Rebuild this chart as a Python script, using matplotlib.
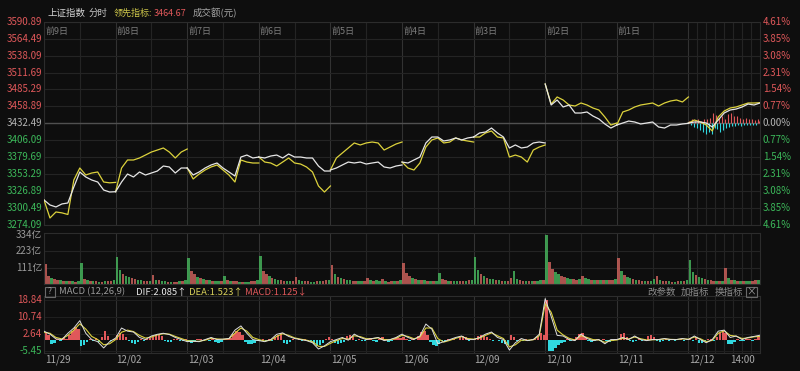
import matplotlib
matplotlib.use('Agg')
import matplotlib.pyplot as plt
import matplotlib.transforms as mtrans
from matplotlib.patches import Rectangle
import numpy as np

plt.rcParams['font.family'] = ['Noto Sans CJK SC', 'DejaVu Sans']

# ---------------- data ----------------
prev_close = 3432.49
lead_last = 3464.67
price_ticks = [3590.89, 3564.49, 3538.09, 3511.69, 3485.29, 3458.89, 3432.49,
               3406.09, 3379.69, 3353.29, 3326.89, 3300.49, 3274.09]
pct_labels = ['4.61%', '3.85%', '3.08%', '2.31%', '1.54%', '0.77%', '0.00%',
              '0.77%', '1.54%', '2.31%', '3.08%', '3.85%', '4.61%']
vol_ticks = [334, 223, 111]
vol_labels = ['334亿', '223亿', '111亿']
macd_ticks = [18.84, 10.74, 2.64, -5.45]
day_tags = ['前9日', '前8日', '前7日', '前6日', '前5日', '前4日', '前3日', '前2日', '前1日']
date_labels = ['11/29', '12/02', '12/03', '12/04', '12/05', '12/06', '12/09', '12/10', '12/11', '12/12']
minutes_per_day = 240
price_step = 20     # minutes between price samples
bar_step = 10       # minutes per volume / histogram bar

# index (white), 13 samples per day
white_line = [
    [3313.1, 3305.3, 3302.2, 3306.9, 3308.4, 3333.3, 3356.7, 3348.9, 3344.2, 3341.1, 3328.6, 3325.5, 3326.0],
    [3326.0, 3341.1, 3353.5, 3348.9, 3356.7, 3352.0, 3355.1, 3358.2, 3366.0, 3364.5, 3355.1, 3362.9, 3362.9],
    [3362.9, 3352.0, 3356.7, 3362.9, 3367.6, 3370.7, 3362.9, 3356.7, 3350.4, 3380.0, 3383.1, 3378.5, 3380.0],
    [3380.0, 3378.5, 3381.6, 3383.1, 3378.5, 3384.7, 3380.0, 3380.0, 3378.5, 3378.5, 3366.0, 3358.2, 3358.2],
    [3359.8, 3362.9, 3367.6, 3372.2, 3370.7, 3372.2, 3369.1, 3370.7, 3372.2, 3364.5, 3362.9, 3366.0, 3367.6],
    [3372.2, 3370.7, 3375.4, 3380.0, 3401.9, 3411.2, 3411.2, 3405.0, 3406.6, 3409.7, 3406.6, 3409.7, 3411.2],
    [3411.2, 3417.5, 3419.0, 3425.2, 3417.5, 3411.2, 3394.1, 3398.8, 3394.1, 3395.6, 3401.9, 3403.4, 3401.9],
    [3493.8, 3461.1, 3468.9, 3458.0, 3461.1, 3448.6, 3448.6, 3450.2, 3443.9, 3439.3, 3431.5, 3425.2, 3429.9],
    [3429.9, 3433.0, 3436.1, 3434.6, 3431.5, 3433.0, 3434.6, 3426.8, 3425.2, 3429.9, 3429.9, 3431.5, 3432.5],
    [3433.0, 3434.6, 3434.6, 3433.0, 3426.8, 3437.7, 3448.6, 3453.3, 3454.8, 3458.0, 3462.6, 3461.1, 3464.2],
]
# leading indicator (yellow)
yellow_line = [
    [3313.1, 3285.0, 3294.4, 3293.0, 3290.5, 3344.2, 3362.9, 3352.0, 3355.1, 3356.7, 3341.1, 3339.8, 3340.5],
    [3326.0, 3362.9, 3375.4, 3375.4, 3378.5, 3383.1, 3387.8, 3390.9, 3394.1, 3387.8, 3378.5, 3387.8, 3392.5],
    [3362.9, 3345.8, 3353.5, 3359.8, 3364.5, 3367.6, 3359.8, 3352.0, 3341.1, 3375.4, 3372.2, 3370.7, 3370.7],
    [3380.0, 3372.2, 3370.7, 3366.0, 3372.2, 3378.5, 3370.7, 3369.1, 3364.5, 3356.7, 3334.9, 3325.5, 3334.9],
    [3359.8, 3378.5, 3386.3, 3394.1, 3401.9, 3398.8, 3401.9, 3403.4, 3401.9, 3390.9, 3395.6, 3400.3, 3403.4],
    [3372.2, 3362.9, 3359.8, 3370.7, 3395.6, 3406.6, 3409.7, 3401.9, 3403.4, 3409.7, 3406.6, 3405.0, 3403.4],
    [3411.2, 3411.2, 3417.5, 3420.6, 3411.2, 3409.7, 3380.0, 3383.1, 3380.0, 3372.2, 3390.9, 3395.6, 3398.8],
    [3493.8, 3462.6, 3473.6, 3468.9, 3461.1, 3459.5, 3464.2, 3461.1, 3456.4, 3453.3, 3442.4, 3429.9, 3433.0],
    [3429.9, 3450.2, 3453.3, 3458.0, 3461.1, 3462.6, 3464.2, 3459.5, 3464.2, 3467.3, 3468.9, 3465.8, 3473.6],
    [3433.0, 3437.7, 3434.6, 3429.9, 3420.6, 3442.4, 3451.7, 3456.4, 3458.0, 3461.1, 3464.2, 3464.2, 3464.67],
]
# current-day buy/sell strength bars (points around prev close), every 5 minutes
strength = [4, -3, 6, -5, 4, -7, 6, -10, 4, -14, 7, -17, 6, -13, 9, -16, 16, -7, 13, -9,
            8, -13, 11, -11, 7, -8, 14, -5, 16, -4, 11, -4, 12, -3, 9, -4, 7, -3, 8, -2,
            6, -3, 7, -2, 5, -3, 6, 4]
strength_step = 5

# turnover (亿), 24 bars per day
volume = [
    [134, 55, 40, 32, 28, 24, 22, 20, 19, 18, 17, 19, 145, 35, 25, 21, 19, 18, 17, 17, 18, 20, 23, 28],
    [185, 95, 70, 55, 45, 38, 32, 28, 25, 22, 20, 21, 60, 30, 24, 20, 18, 17, 16, 16, 17, 19, 22, 28],
    [177, 90, 65, 50, 42, 35, 30, 26, 23, 21, 19, 20, 57, 28, 22, 19, 18, 17, 16, 16, 17, 19, 22, 26],
    [188, 92, 68, 52, 42, 35, 30, 26, 23, 21, 19, 20, 45, 26, 21, 19, 18, 17, 17, 18, 20, 22, 25, 30],
    [132, 70, 50, 40, 34, 29, 26, 23, 21, 20, 19, 20, 42, 26, 22, 28, 20, 35, 18, 17, 20, 18, 22, 28],
    [143, 75, 55, 43, 36, 30, 27, 24, 22, 20, 19, 21, 73, 36, 27, 23, 21, 19, 18, 18, 19, 21, 24, 30],
    [186, 95, 70, 54, 44, 37, 32, 28, 25, 23, 21, 22, 40, 91, 32, 25, 22, 20, 19, 19, 20, 22, 25, 30],
    [334, 150, 105, 80, 65, 55, 47, 41, 36, 33, 30, 31, 57, 38, 32, 28, 26, 25, 24, 24, 25, 27, 30, 36],
    [176, 88, 64, 50, 41, 34, 29, 26, 23, 21, 19, 20, 35, 57, 25, 21, 19, 18, 17, 17, 18, 20, 23, 28],
    [166, 82, 60, 47, 39, 33, 28, 25, 22, 20, 19, 20, 109, 40, 28, 24, 22, 20, 19, 19, 20, 22, 25, 30],
]
# colour of each day's opening volume bar (True = up / red)
open_bar_up = [True, False, False, False, True, True, False, False, True, False]

# MACD lines, every 20 minutes (121 samples)
dif = [4, 2.6, 0.3, 0, 3, 5.5, 9, 3, 0, -1, -4, -1,
       0.7, 5.5, 4, 3.6, 1, 0, 1.7, 2.5, 3, 2.4, 1, 0,
       -1, -0.8, -1, 0, 1, 0, 0.2, 0.5, 4.5, 6.5, 3, 0,
       -0.5, -1, 0, 2.5, 3.2, 1.5, 0.5, 0, -0.5, -1.5, -4.5, -3,
       -1, 0, 1, -0.3, 2.6, 1, 0, 0.5, 1, -0.5, 0, 1,
       2.6, 1, 0, 1.7, 7.4, 5, -2, -1, 0, 1, 1.7, 0,
       0, 1, 2.6, 3.6, 1, 0, -5, -1.5, 0.5, -0.5, 0, 2.5,
       19.5, 11, 2, 1.7, 0, -0.5, 2.6, 0.5, -0.5, 0, -2, 0,
       0, 1, 0, 1.7, 0, -0.5, 0, 0, 0.5, 0, 0, 0.5,
       0, 1.7, 0, -1.5, 0, 4, 4.5, 1, 1.7, 0, 1, 1.5, 2.085]
dea = [3.5, 3, 1, 0.3, 2, 4.5, 7.5, 5, 1.5, 0, -2.5, -2,
       0, 3.5, 4.5, 3.8, 2, 0.7, 1.2, 2.2, 2.8, 2.6, 1.5, 0.5,
       -0.5, -0.8, -0.8, -0.3, 0.6, 0.3, 0.1, 0.4, 3, 5.5, 4, 1,
       0, -0.7, -0.3, 1.5, 2.8, 2, 0.8, 0.2, -0.3, -1, -3.2, -3.3,
       -1.8, -0.5, 0.5, 0.2, 1.8, 1.4, 0.4, 0.4, 0.8, 0, -0.1, 0.6,
       2, 1.5, 0.4, 1.2, 5.5, 5.5, 0.5, -1.2, -0.4, 0.6, 1.4, 0.5,
       0.2, 0.7, 2, 3.2, 1.8, 0.5, -3.5, -2.5, -0.3, -0.3, -0.1, 1.8,
       17, 13, 4.5, 2.2, 0.6, -0.2, 1.8, 1, 0, -0.2, -1.3, -0.5,
       -0.2, 0.6, 0.3, 1.2, 0.4, -0.2, -0.1, 0, 0.3, 0.1, 0, 0.3,
       0.2, 1.2, 0.4, -1, -0.4, 3, 4.2, 2, 1.6, 0.5, 0.8, 1.3, 1.523]
macd_hist = [
    [3.5, 2, -2, -1.5, 0.5, -0.5, 0.8, 0.5, 2, 4, 6, 5, -3, -2.5, -1, 0.5, -0.5, 0.8, -1, 1, 4, 1.5, -0.5, 0.5],
    [2, 3, 2.5, 1, -0.5, -1.5, -2, -1, 0.5, -0.5, 0.5, 0.8, 1, 2, 2, 1.5, -0.5, -1.2, -1, 0.3, 0.5, -0.5, -0.8, 0.3],
    [-1, -1.5, -0.5, 0.5, 0.3, -0.5, 0.5, -0.8, 0.3, -1, -1.5, -1.2, 0.3, 0.5, 0.8, 2.5, 4, 3.5, 2, -1, -2, -2, -1.5, -0.5],
    [-0.5, 0.5, -0.8, 0.5, -0.5, 1, 2, 3, -1.5, -2, -1, 0.5, -0.3, 0.5, -0.5, 0.3, -0.5, -1, -2, -3, -2.5, -1.5, 0.5, 1],
    [0.5, -1.5, -2, -1.8, -1, 1.5, 2, 1, -0.5, 0.5, -0.8, -0.5, 0.3, 0.8, -0.5, -1, 0.5, 1, 0.5, -1, -0.8, 0.5, 1, 0.8],
    [1, 0.5, -0.5, 0.3, -0.3, 1.5, 3.5, 4, 2, -1, -2.5, -3, -2, -0.8, -0.5, 0.3, 0.5, 0.3, -0.3, 1, 1.5, 1, -0.5, -0.3],
    [0.5, 1.5, 2, 1.5, 1, 0.5, -0.5, -0.3, -0.8, -1.5, -2, -2.5, 2, 1, -0.5, 0.3, -0.5, 0.5, -0.8, 0.3, 0.5, 1.5, 3, 2],
    [19, -5.5, -5.5, -4, -2.5, -1.5, -1, 0.5, -0.5, 0.3, 1, 2.5, 3, 1, -0.5, -1, -0.8, 0.3, -0.5, 0.3, -0.5, -1, -0.5, 0.3],
    [0.5, 2.5, 3, 1, -0.8, -1, -0.5, 0.5, -0.8, 0.3, 1.5, 2, 1, -0.5, -1, -0.5, 0.3, -0.5, 0.5, -0.8, -0.3, 0.5, -0.5, 0.3],
    [0.3, -0.5, 1, -1.5, -1.5, -0.8, 0.5, 0.3, -0.5, 1, 3, 4, 3, -2, -2, -1, 0.5, -0.5, -0.8, 0.5, 0.3, -0.5, 0.5, 1.1],
]

# ---------------- style ----------------
W, H = 800, 371
BG = '#0e0e0e'
GRID = '#242424'
DAYGRID = '#323232'
RED = '#e0585a'
GREEN = '#3cb85a'
VRED = '#c8605a'
VGREEN = '#45b05a'
GRAY = '#b4b4b4'
WHITE_C = '#e6e6e6'
YELLOW_C = '#dcd23c'
CYAN = '#30d8e0'
n_days = len(date_labels)
total = n_days * minutes_per_day

fig = plt.figure(figsize=(W / 100, H / 100), dpi=100, facecolor=BG)


def px_axes(x0, y0, x1, y1):
    ax = fig.add_axes([x0 / W, 1 - y1 / H, (x1 - x0) / W, (y1 - y0) / H])
    ax.set_facecolor(BG)
    ax.set_xticks([])
    ax.set_yticks([])
    for s in ax.spines.values():
        s.set_color('#2c2c2c')
        s.set_linewidth(0.8)
    ax.set_xlim(0, total)
    return ax


def vgrid(ax):
    for d in range(n_days):
        ax.axvline(d * minutes_per_day, color=DAYGRID, lw=0.8, zorder=0)
        if d < n_days - 1:
            ax.axvline(d * minutes_per_day + 120, color=GRID, lw=0.8, zorder=0)
        else:
            for m in range(30, minutes_per_day, 30):
                ax.axvline(d * minutes_per_day + m, color=GRID, lw=0.8, zorder=0)


ax = px_axes(44, 21.7, 760, 225)
axv = px_axes(44, 233, 760, 284)
axm = px_axes(44, 296, 760, 353)

# ---- main price panel ----
ax.set_ylim(price_ticks[-1], price_ticks[0])
vgrid(ax)
for p in price_ticks:
    ax.axhline(p, color=GRID, lw=0.8, zorder=0)
ax.axhline(prev_close, color='#505050', lw=1.0, zorder=1)

bt_l = mtrans.blended_transform_factory(ax.transAxes, ax.transData)
for p, lab in zip(price_ticks, pct_labels):
    c = RED if p > prev_close + 0.01 else (GREEN if p < prev_close - 0.01 else GRAY)
    ax.text(-0.003, p, f'{p:.2f}', transform=bt_l, ha='right', va='center',
            color=c, fontsize=7, clip_on=False)
    ax.text(1.004, p, lab, transform=bt_l, ha='left', va='center',
            color=c, fontsize=7, clip_on=False)

for d in range(n_days):
    xs = d * minutes_per_day + np.arange(len(white_line[d])) * price_step
    ax.plot(xs, yellow_line[d], color=YELLOW_C, lw=0.9, zorder=3)
    ax.plot(xs, white_line[d], color=WHITE_C, lw=0.9, zorder=4)

# current-day strength bars
sx = (n_days - 1) * minutes_per_day + np.arange(len(strength)) * strength_step + 2.5
sv = np.array(strength, dtype=float)
ax.vlines(sx[sv >= 0], prev_close, prev_close + sv[sv >= 0], color=RED, lw=0.8, zorder=2)
ax.vlines(sx[sv < 0], prev_close, prev_close + sv[sv < 0], color=CYAN, lw=0.8, zorder=2)

bt_ax = mtrans.blended_transform_factory(ax.transData, ax.transAxes)
for d, tag in enumerate(day_tags):
    ax.text(d * minutes_per_day + 4, 0.953, tag, transform=bt_ax, ha='left', va='center',
            color='#7c7c7c', fontsize=6.5)

# ---- volume panel ----
axv.set_ylim(0, 334 * 51 / 49)
vgrid(axv)
for v in vol_ticks[1:]:
    axv.axhline(v, color=GRID, lw=0.8, zorder=0)
for d in range(n_days):
    for i, v in enumerate(volume[d]):
        if i == 0:
            up = open_bar_up[d]
        else:
            k = i // 2
            up = white_line[d][k + 1] >= white_line[d][k]
            if i % 2 == 1:
                up = not up
        axv.bar(d * minutes_per_day + i * bar_step + bar_step / 2, v, width=bar_step * 0.85,
                color=VRED if up else VGREEN, alpha=0.85, lw=0, zorder=2)
bt_v = mtrans.blended_transform_factory(axv.transAxes, axv.transData)
for v, lab in zip(vol_ticks, vol_labels):
    axv.text(-0.003, v, lab, transform=bt_v, ha='right', va='center',
             color='#9a9a9a', fontsize=7, clip_on=False)

# ---- MACD panel ----
axm.set_ylim(-6.40, 20.75)
vgrid(axm)
for v in macd_ticks:
    axm.axhline(v, color='#1f1f1f', lw=0.8, zorder=0)
for d in range(n_days):
    for i, v in enumerate(macd_hist[d]):
        axm.bar(d * minutes_per_day + i * bar_step + bar_step / 2, v, width=bar_step * 0.8,
                color=RED if v >= 0 else CYAN, lw=0, zorder=2)
mx = np.arange(len(dif)) * price_step
axm.plot(mx, dea, color=YELLOW_C, lw=0.8, zorder=3)
axm.plot(mx, dif, color='#dedede', lw=0.7, zorder=4)
bt_m = mtrans.blended_transform_factory(axm.transAxes, axm.transData)
for v in macd_ticks:
    axm.text(-0.003, v, f'{v:.2f}', transform=bt_m, ha='right', va='center',
             color=RED if v > 0 else GREEN, fontsize=7, clip_on=False)

bt_d = mtrans.blended_transform_factory(axm.transData, axm.transAxes)
for d, lab in enumerate(date_labels):
    axm.text(d * minutes_per_day + 3, -0.125, lab, transform=bt_d, ha='left', va='center',
             color='#a8a8a8', fontsize=7, clip_on=False)
axm.text((n_days - 1) * minutes_per_day + 180, -0.125, '14:00', transform=bt_d, ha='center',
         va='center', color='#a8a8a8', fontsize=7, clip_on=False)

# ---- header texts ----
def ftext(x, y, s, c, fs=6.8, ha='left'):
    fig.text(x / W, 1 - y / H, s, color=c, fontsize=fs, ha=ha, va='center')

ftext(48, 13, '上证指数', '#d2d2d2')
ftext(89, 13, '分时', '#c4c4c4')
ftext(114, 13, '领先指标:', '#cfc84a', fs=6.5)
ftext(154, 13, f'{lead_last:.2f}', RED, fs=6.5)
ftext(193, 13, '成交额(元)', '#a4a4a4')

# MACD header
fig.patches.append(Rectangle((45 / W, 1 - 297 / H), 10 / W, 10 / H, transform=fig.transFigure,
                             fill=False, edgecolor='#6a6a6a', lw=0.8))
ftext(50, 292, '?', '#9a9a9a', fs=6, ha='center')
ftext(59, 292, 'MACD (12,26,9)', '#9a9a9a')
ftext(136, 292, 'DIF:2.085↑', '#e8e8e8')
ftext(189, 292, 'DEA:1.523↑', '#d8d05a')
ftext(245, 292, 'MACD:1.125↓', RED)
ftext(647, 292, '改参数', '#8c8c8c')
ftext(681, 292, '加指标', '#8c8c8c')
ftext(715, 292, '换指标', '#8c8c8c')
fig.patches.append(Rectangle((746 / W, 1 - 297 / H), 11 / W, 10 / H, transform=fig.transFigure,
                             fill=False, edgecolor='#6a6a6a', lw=0.8))
ftext(751.5, 292, '×', '#9a9a9a', fs=7, ha='center')

fig.savefig('out.png', dpi=100, facecolor=BG)
